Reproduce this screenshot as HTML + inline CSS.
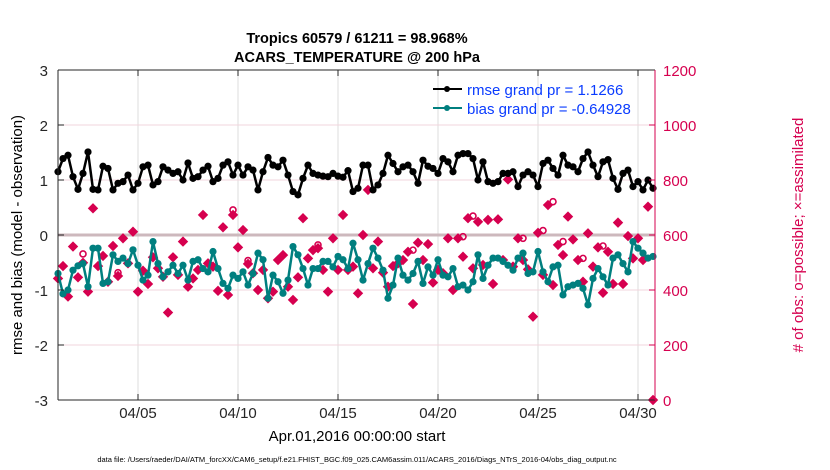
<!DOCTYPE html>
<html><head><meta charset="utf-8"><style>
body{margin:0;background:#fff;}
svg{display:block;font-family:"Liberation Sans",sans-serif;}
</style></head><body>
<svg id="chart" width="830" height="470" viewBox="0 0 830 470">
<text x="357" y="43" text-anchor="middle" font-size="14.5" font-weight="bold">Tropics 60579 / 61211 = 98.968%</text>
<text x="357" y="62" text-anchor="middle" font-size="14.5" font-weight="bold">ACARS_TEMPERATURE @ 200 hPa</text>
<g id="grid"></g>
<g id="series"></g>
<g id="axes"></g>
<text transform="translate(22,235) rotate(-90)" text-anchor="middle" font-size="15">rmse and bias (model - observation)</text>
<text transform="translate(803,235) rotate(-90)" text-anchor="middle" font-size="15" fill="#d6004f"># of obs: o=possible; ×=assimilated</text>
<text x="357" y="441" text-anchor="middle" font-size="15">Apr.01,2016 00:00:00 start</text>
<text x="357" y="462" text-anchor="middle" font-size="7.5">data file: /Users/raeder/DAI/ATM_forcXX/CAM6_setup/f.e21.FHIST_BGC.f09_025.CAM6assim.011/ACARS_2016/Diags_NTrS_2016-04/obs_diag_output.nc</text>
<g>
<line x1="433" y1="89" x2="462" y2="89" stroke="#000" stroke-width="2"/>
<circle cx="447" cy="89" r="3" fill="#000"/>
<text x="467" y="95" font-size="15" fill="#0a3cff">rmse grand pr = 1.1266</text>
<line x1="433" y1="108" x2="462" y2="108" stroke="#007f7f" stroke-width="2"/>
<circle cx="447" cy="108" r="3" fill="#007f7f"/>
<text x="467" y="114" font-size="15" fill="#0a3cff">bias grand pr = -0.64928</text>
</g>
</svg>
<script>
const xTickLabels = ["04/05","04/10","04/15","04/20","04/25","04/30"];
const xTickDays = [4,9,14,19,24,29];
const leftTicks = [-3,-2,-1,0,1,2,3];
const rightTicks = [0,200,400,600,800,1000,1200];
const rmse = [1.15,1.39,1.45,1.06,0.83,1.12,1.51,0.83,0.82,1.25,1.21,0.82,0.94,0.97,1.09,0.82,0.94,1.24,1.27,0.91,0.97,1.24,1.18,1.12,1.15,1.00,1.31,1.03,1.06,1.18,1.25,0.97,1.03,1.27,1.33,1.09,1.27,1.09,1.24,1.18,0.82,1.15,1.41,1.27,1.24,1.36,1.09,0.79,0.73,1.03,1.27,1.12,1.09,1.07,1.06,1.12,1.07,1.05,1.17,0.79,0.85,1.27,
1.27,0.82,0.91,1.12,1.45,1.30,1.15,1.24,1.27,1.15,0.94,1.36,1.25,1.21,1.12,1.39,1.33,1.15,1.45,1.48,1.48,1.39,1.00,1.33,0.97,0.94,0.97,1.12,1.12,1.15,0.88,1.09,1.15,1.09,0.88,1.30,1.36,1.21,1.09,1.45,1.27,1.24,1.15,1.39,1.51,1.27,1.06,1.33,1.37,1.03,0.83,1.12,1.18,0.88,0.97,0.82,1.00,0.85];
const bias = [-0.70,-1.07,-1.00,-0.64,-0.56,-0.52,-0.94,-0.24,-0.24,-0.88,-0.85,-0.36,-0.48,-0.42,-0.52,-0.27,-0.55,-0.82,-0.73,-0.12,-0.52,-0.76,-0.67,-0.55,-0.70,-0.55,-0.82,-0.48,-0.45,-0.61,-0.67,-0.30,-0.61,-0.88,-0.97,-0.73,-0.79,-0.67,-0.91,-0.70,-0.33,-0.45,-1.15,-0.73,-0.85,-1.06,-0.82,-0.21,-0.36,-0.61,-0.91,-0.61,-0.61,-0.48,-0.48,-0.58,-0.39,-0.45,-0.61,-0.15,-0.45,-0.82,
-0.52,-0.24,-0.42,-0.64,-1.15,-0.91,-0.42,-0.73,-0.82,-0.70,-0.48,-0.88,-0.58,-0.73,-0.45,-0.73,-0.76,-0.61,-0.94,-0.91,-1.00,-0.85,-0.36,-0.79,-0.55,-0.42,-0.42,-0.48,-0.55,-0.64,-0.42,-0.33,-0.70,-0.67,-0.30,-0.67,-0.85,-0.58,-0.55,-1.09,-0.94,-0.91,-0.88,-0.97,-1.27,-0.79,-0.61,-0.76,-0.91,-0.42,-0.36,-0.52,-0.67,-0.12,-0.24,-0.33,-0.42,-0.39];
const obsAssim = [442,487,376,558,446,499,394,697,487,524,430,560,451,588,497,612,394,470,422,519,479,448,318,519,455,576,412,442,473,673,497,485,397,628,382,673,555,618,495,461,400,473,370,394,509,527,412,364,446,661,515,545,552,473,394,588,473,673,473,485,388,600,
764,479,576,463,412,487,497,509,539,349,572,509,567,427,473,461,588,400,588,521,661,479,648,491,655,422,657,509,802,485,588,509,475,303,608,455,709,418,564,527,667,584,509,430,606,485,555,390,539,422,645,422,596,515,588,509,703,0];
const obsPossibleOverrides = {5:531,12:463,35:691,38:507,52:564,71:545,81:594,83:669,93:588,97:616,99:721,101:576,105:515,109:560};
const obsPossible = obsAssim.slice();
for (const k in obsPossibleOverrides) obsPossible[+k] = obsPossibleOverrides[k];

const NS="http://www.w3.org/2000/svg";
const X0=58,X1=655,YT=70,YB=400;
const dayPx=20;
function xScale(day){return X0+day*dayPx;}
function yL(v){return YB-(v+3)*(YB-YT)/6;}
function yR(v){return YB-v*(YB-YT)/1200;}
function mk(tag,attrs,parent){const e=document.createElementNS(NS,tag);for(const k in attrs)e.setAttribute(k,attrs[k]);parent.appendChild(e);return e;}
const grid=document.getElementById('grid'),axes=document.getElementById('axes'),ser=document.getElementById('series');

xTickDays.forEach((d,i)=>{
  const x=xScale(d);
  const gl=mk('line',{x1:x,y1:YT,x2:x,y2:YB,stroke:'#dcdcdc','stroke-width':1},grid);
  
  
  mk('line',{x1:x,y1:YB,x2:x,y2:YB-6,stroke:'#262626'},axes);
  mk('line',{x1:x,y1:YT,x2:x,y2:YT+6,stroke:'#262626'},axes);
  const t=mk('text',{x:x,y:YB+18,'text-anchor':'middle','font-size':15,fill:'#262626'},axes);
  t.textContent=xTickLabels[i];
  
  
});
rightTicks.forEach(v=>{
  const y=yR(v);
  if(v>0&&v<1200){
    const gl=mk('line',{x1:X0,y1:y,x2:X1,y2:y,stroke:v===600?'#cdb8bd':'#f2d4dc','stroke-width':v===600?3:1},grid);
    
    
  }
  mk('line',{x1:X1,y1:y,x2:X1-6,y2:y,stroke:'#d6004f'},axes);
  const t=mk('text',{x:X1+8,y:y+6,'font-size':15,fill:'#d6004f'},axes);
  t.textContent=v;
  
  
});
leftTicks.forEach(v=>{
  const y=yL(v);
  mk('line',{x1:X0,y1:y,x2:X0+6,y2:y,stroke:'#262626'},axes);
  const t=mk('text',{x:X0-10,y:y+6,'text-anchor':'end','font-size':15,fill:'#262626'},axes);
  t.textContent=v;
  
  
});
mk('line',{x1:X0,y1:YT,x2:X1,y2:YT,stroke:'#262626'},axes);
mk('line',{x1:X0,y1:YB,x2:X1,y2:YB,stroke:'#262626'},axes);
mk('line',{x1:X0,y1:YT,x2:X0,y2:YB,stroke:'#262626'},axes);
mk('line',{x1:X1,y1:YT,x2:X1,y2:YB,stroke:'#d6004f'},axes);

obsPossible.forEach((v,i)=>{
  if(v===obsAssim[i])return;
  const c=mk('circle',{cx:xScale(i*0.25),cy:yR(v),r:3,fill:'none',stroke:'#d6004f','stroke-width':1.6},ser);
  
  
});
obsAssim.forEach((v,i)=>{
  const x=xScale(i*0.25),y=yR(v);
  const p=mk('path',{d:`M${x-4.5},${y}L${x},${y-4.5}L${x+4.5},${y}L${x},${y+4.5}Z`,fill:'#d6004f',stroke:'#d6004f','stroke-width':1},ser);
  
  
});
function line(vals,color,name){
  const pts=vals.map((v,i)=>xScale(i*0.25)+','+yL(v)).join(' ');
  const pl=mk('polyline',{points:pts,fill:'none',stroke:color,'stroke-width':2.5,'stroke-linejoin':'round'},ser);
  
  
  vals.forEach((v,i)=>{
    const c=mk('circle',{cx:xScale(i*0.25),cy:yL(v),r:3.6,fill:color},ser);
    
    
  });
}
line(bias,'#007f7f','bias');
line(rmse,'#000000','rmse');
</script>
</body></html>
